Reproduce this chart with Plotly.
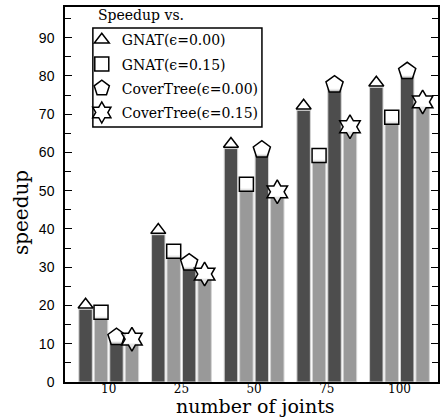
import plotly.graph_objects as go

joints = ["10", "25", "50", "75", "100"]
series_names = ["GNAT(ϵ=0.00)", "GNAT(ϵ=0.15)", "CoverTree(ϵ=0.00)", "CoverTree(ϵ=0.15)"]
gnat_000 = [19, 38.5, 61, 71, 77]
gnat_015 = [17, 33, 50.5, 58, 68]
cover_000 = [10.5, 30, 59.5, 76.5, 80]
cover_015 = [10, 27, 48.5, 65.5, 72]
y_ticks = [0, 10, 20, 30, 40, 50, 60, 70, 80, 90]

series_values = [gnat_000, gnat_015, cover_000, cover_015]
bar_colors = ["#4d4d4d", "#999999", "#4d4d4d", "#999999"]
symbols = ["triangle-up", "square", "pentagon", "hexagram"]
msizes = [13, 14, 18, 18]

BARGAP = 0.15
YMAX = 98
MARKER_LIFT = 1.2  # markers sit slightly above the bar tops, as in the reference
n = len(series_values)
slot = (1 - BARGAP) / n
idx = list(range(len(joints)))

fig = go.Figure()
for k, vals in enumerate(series_values):
    fig.add_trace(go.Bar(
        x=idx, y=vals, marker=dict(color=bar_colors[k], line=dict(color="#d4d4d4", width=1)),
        showlegend=False, hoverinfo="skip"))
for k, vals in enumerate(series_values):
    xs = [i + (k - (n - 1) / 2) * slot for i in idx]
    fig.add_trace(go.Scatter(
        x=xs, y=vals, mode="markers", name=series_names[k], yaxis="y2",
        legendgroup=f"g{k}",
        marker=dict(symbol=symbols[k], size=msizes[k], color="rgba(255,255,255,0.72)",
                    line=dict(color="black", width=1.5))))

fig.update_layout(
    width=440, height=418,
    margin=dict(l=65, r=0, t=7, b=36),
    paper_bgcolor="white", plot_bgcolor="white",
    barmode="group", bargap=BARGAP, bargroupgap=0.13,
    showlegend=True,
    legend=dict(x=0.045, y=0.954, xanchor="left", yanchor="top",
                bgcolor="rgba(0,0,0,0)", borderwidth=0,
                font=dict(family="DejaVu Serif", size=14, color="black"),
                tracegroupgap=3, itemsizing="trace"),
    shapes=[dict(type="rect", xref="paper", yref="paper",
                 x0=0.0747, x1=0.528, y0=0.68, y1=0.944,
                 line=dict(color="black", width=1.5), fillcolor="white", layer="above")],
    annotations=[
        dict(text="Speedup vs.", xref="paper", yref="paper", x=0.082, y=0.978,
             xanchor="left", yanchor="middle", showarrow=False,
             font=dict(family="DejaVu Serif", size=14, color="black")),
        dict(text="speedup", xref="paper", yref="paper", x=-0.118, y=0.453,
             xanchor="center", yanchor="middle", textangle=-90, showarrow=False,
             font=dict(family="DejaVu Serif", size=20, color="black")),
        dict(text="number of joints", xref="paper", yref="paper", x=0.51, y=-0.064,
             xanchor="center", yanchor="middle", showarrow=False,
             font=dict(family="DejaVu Serif", size=19, color="black")),
    ],
)
fig.update_xaxes(
    range=[-0.602, 4.53], tickmode="array", tickvals=idx, ticktext=joints,
    showline=True, linecolor="black", linewidth=2, mirror=True,
    ticks="", ticklen=0, ticklabelstandoff=-5, showgrid=False, zeroline=False,
    tickfont=dict(family="DejaVu Serif", size=12, color="black"))
fig.update_layout(yaxis=dict(
    range=[0, YMAX], tickmode="array", tickvals=y_ticks,
    showline=True, linecolor="black", linewidth=1.5, mirror="ticks",
    ticks="inside", ticklen=7, tickwidth=1, tickcolor="black",
    minor=dict(ticks="inside", ticklen=6, dtick=5, tickcolor="black", tickwidth=1),
    showgrid=False, zeroline=False, ticklabelstandoff=6,
    tickfont=dict(family="Liberation Sans", size=14, color="black")))
fig.update_layout(yaxis2=dict(overlaying="y", range=[-MARKER_LIFT, YMAX - MARKER_LIFT],
                              visible=False, showline=False, ticks=""))

fig.write_html("out.html")
